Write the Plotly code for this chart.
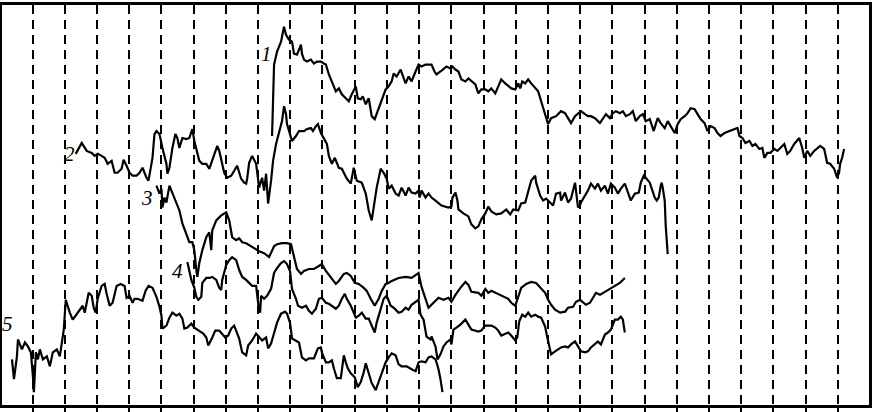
"""Five wiggly traces over dashed vertical guides (scanned-figure style)."""

import plotly.graph_objects as go

# Points are (x, depth); depth grows downward.
CURVE_1 = [
    (273, 135), (275, 63), (278, 50), (282, 40), (285, 25), (287, 33), (290, 38), (293, 40),
    (295, 52), (298, 53), (302, 43), (303, 52), (305, 58), (308, 60), (312, 58), (315, 62),
    (318, 60), (322, 60), (325, 62), (327, 63), (330, 73), (333, 80), (337, 90), (340, 87),
    (343, 93), (347, 97), (350, 100), (353, 93), (357, 85), (359, 97), (362, 98), (364, 95),
    (367, 103), (370, 97), (373, 115), (376, 118), (380, 107), (383, 97), (387, 88), (390, 85),
    (393, 80), (395, 72), (398, 75), (402, 68), (404, 73), (407, 82), (410, 75), (413, 80),
    (417, 70), (420, 63), (423, 65), (427, 63), (430, 63), (433, 63), (436, 70), (438, 73),
    (442, 70), (445, 67), (448, 65), (452, 67), (454, 65), (457, 68), (460, 70), (463, 78),
    (467, 80), (470, 77), (473, 80), (477, 83), (480, 92), (483, 88), (487, 88), (490, 90),
    (493, 87), (497, 92), (500, 85), (503, 78), (507, 82), (510, 85), (513, 87), (517, 88),
    (520, 82), (522, 87), (524, 80), (527, 82), (530, 78), (533, 82), (537, 87), (540, 90),
    (543, 100), (547, 112), (550, 123), (553, 117), (558, 115), (563, 110), (567, 112),
    (570, 117), (573, 122), (577, 115), (580, 112), (583, 110), (587, 113), (590, 115),
    (593, 115), (597, 117), (602, 122), (605, 118), (608, 113), (612, 117), (615, 112),
    (618, 110), (622, 112), (625, 110), (628, 115), (632, 113), (635, 110), (638, 120),
    (642, 115), (645, 113), (648, 120), (652, 118), (656, 130), (658, 123), (660, 117),
    (663, 122), (667, 127), (670, 120), (673, 125), (677, 132), (680, 123), (683, 118),
    (687, 115), (690, 112), (693, 107), (697, 108), (700, 113), (703, 118), (707, 122),
    (710, 130), (713, 125), (717, 127), (720, 132), (723, 135), (727, 132), (732, 130),
    (737, 128), (740, 127), (742, 135), (745, 137), (748, 142), (752, 140), (755, 145),
    (758, 143), (762, 148), (765, 147), (767, 157), (770, 152), (773, 152), (777, 148),
    (780, 150), (783, 147), (787, 143), (790, 153), (793, 150), (797, 143), (800, 140),
    (802, 137), (805, 147), (807, 157), (810, 150), (813, 155), (817, 150), (820, 147),
    (823, 145), (827, 148), (830, 162), (833, 163), (837, 168), (840, 177), (842, 172),
    (843, 163), (845, 157), (847, 148),
]

CURVE_2 = [
    (76, 153), (82, 142), (87, 150), (92, 152), (95, 155), (98, 153), (102, 155), (105, 157),
    (108, 163), (112, 160), (115, 172), (118, 172), (122, 168), (124, 159), (127, 165),
    (130, 172), (133, 175), (137, 175), (140, 172), (143, 167), (147, 177), (149, 180),
    (153, 157), (155, 133), (157, 130), (160, 133), (163, 147), (167, 163), (168, 173),
    (170, 167), (173, 147), (176, 133), (178, 137), (180, 147), (183, 137), (187, 138),
    (190, 137), (193, 128), (195, 140), (197, 147), (200, 160), (203, 163), (207, 163),
    (210, 168), (213, 160), (217, 148), (218, 145), (220, 150), (223, 165), (225, 172),
    (228, 177), (232, 175), (235, 170), (238, 165), (242, 178), (245, 182), (247, 183),
    (248, 178), (250, 162), (253, 155), (257, 163), (260, 187), (263, 177), (265, 190),
    (267, 173), (269, 203), (272, 180), (274, 160), (277, 143), (280, 130), (283, 120),
    (285, 105), (287, 113), (288, 123), (291, 133), (293, 140), (297, 135), (300, 130),
    (305, 130), (308, 128), (312, 127), (314, 130), (317, 125), (319, 123), (322, 132),
    (325, 137), (328, 143), (330, 155), (333, 163), (336, 157), (340, 167), (343, 168),
    (348, 178), (352, 183), (355, 167), (358, 180), (363, 182), (367, 193), (370, 210),
    (373, 220), (375, 207), (378, 187), (382, 168), (385, 172), (388, 178), (390, 188),
    (393, 185), (397, 193), (400, 195), (403, 187), (407, 195), (410, 187), (413, 192),
    (417, 193), (420, 190), (421, 197), (423, 190), (427, 197), (430, 193), (433, 197),
    (437, 200), (440, 203), (443, 205), (450, 207), (453, 206), (454, 197), (457, 192),
    (459, 200), (460, 209), (465, 213), (470, 216), (473, 224), (477, 228), (480, 226),
    (483, 219), (487, 213), (490, 206), (493, 211), (498, 214), (503, 213), (508, 209),
    (512, 214), (515, 209), (520, 210), (523, 203), (527, 202), (530, 192), (533, 180),
    (537, 175), (538, 182), (542, 195), (545, 200), (548, 198), (552, 202), (555, 205),
    (558, 193), (562, 192), (563, 200), (567, 192), (570, 202), (573, 198), (577, 182),
    (580, 207), (582, 205), (583, 202), (587, 195), (590, 190), (593, 183), (597, 188),
    (600, 183), (603, 190), (607, 185), (610, 193), (613, 183), (617, 187), (620, 193),
    (623, 188), (627, 183), (630, 192), (633, 200), (637, 193), (641, 192), (643, 182),
    (646, 175), (648, 177), (652, 182), (654, 188), (657, 197), (659, 200), (661, 197),
    (663, 185), (664, 182), (665, 187), (667, 200), (668, 225), (670, 254),
]

CURVE_3 = [
    (157, 185), (160, 193), (162, 188), (163, 207), (165, 197), (167, 202), (170, 185),
    (173, 192), (177, 202), (180, 210), (183, 223), (187, 235), (190, 242), (193, 242),
    (195, 250), (197, 270), (198, 277), (200, 263), (203, 250), (207, 237), (210, 232),
    (212, 250), (213, 230), (217, 220), (222, 215), (227, 212), (230, 220), (233, 237),
    (237, 240), (240, 238), (243, 242), (247, 243), (250, 245), (255, 248), (260, 251),
    (265, 253), (270, 257), (275, 246), (278, 244), (283, 243), (288, 243), (292, 244),
    (295, 256), (298, 269), (302, 274), (305, 271), (310, 269), (315, 269), (320, 266),
    (323, 264), (327, 271), (332, 278), (337, 284), (340, 281), (345, 274), (348, 273),
    (352, 276), (356, 283), (360, 284), (365, 288), (368, 291), (372, 299), (376, 306),
    (380, 299), (383, 291), (387, 284), (390, 283), (393, 281), (400, 278), (407, 277),
    (413, 278), (420, 273), (423, 287), (430, 308), (433, 305), (437, 300), (440, 298),
    (445, 300), (450, 298), (453, 302), (457, 295), (462, 288), (467, 282), (470, 285),
    (473, 292), (480, 293), (483, 296), (487, 289), (490, 293), (493, 291), (497, 293),
    (500, 294), (503, 296), (507, 298), (510, 299), (513, 303), (517, 306), (520, 297),
    (523, 288), (528, 284), (533, 282), (538, 283), (543, 288), (547, 293), (550, 300),
    (553, 305), (557, 310), (562, 313), (567, 312), (570, 308), (575, 307), (578, 302),
    (582, 300), (585, 303), (588, 305), (592, 303), (595, 298), (598, 293), (602, 295),
    (607, 292), (610, 290), (613, 288), (618, 285), (622, 283), (627, 278),
]

CURVE_4 = [
    (188, 262), (192, 280), (195, 288), (197, 297), (199, 300), (202, 297), (203, 283),
    (207, 278), (210, 278), (213, 277), (217, 280), (220, 288), (222, 290), (223, 280),
    (227, 265), (230, 260), (233, 257), (237, 260), (240, 270), (243, 277), (247, 280),
    (250, 283), (253, 286), (257, 286), (259, 303), (261, 313), (262, 296), (265, 299),
    (268, 296), (272, 289), (275, 273), (278, 268), (282, 263), (285, 261), (288, 264),
    (291, 271), (293, 289), (297, 299), (299, 306), (303, 308), (307, 306), (310, 311),
    (313, 314), (317, 309), (320, 299), (323, 298), (327, 303), (330, 304), (333, 306),
    (337, 309), (340, 306), (343, 299), (346, 294), (348, 299), (352, 306), (355, 313),
    (357, 318), (360, 316), (363, 313), (367, 319), (370, 319), (373, 326), (376, 333),
    (378, 323), (382, 309), (385, 299), (388, 296), (392, 306), (395, 308), (400, 313),
    (403, 312), (407, 308), (410, 310), (413, 305), (420, 300), (422, 315), (425, 320),
    (428, 337), (432, 340), (433, 337), (437, 347), (439, 360), (442, 355), (445, 347),
    (448, 343), (452, 340), (453, 345), (455, 330), (458, 328), (462, 325), (467, 320),
    (470, 325), (473, 330), (480, 332), (483, 331), (487, 326), (490, 326), (493, 326),
    (497, 328), (500, 331), (503, 336), (507, 334), (510, 333), (513, 336), (517, 341),
    (519, 338), (521, 322), (524, 315), (527, 317), (530, 313), (533, 317), (537, 315),
    (540, 317), (543, 318), (547, 327), (549, 337), (552, 353), (553, 355), (557, 352),
    (560, 350), (563, 348), (567, 347), (570, 348), (573, 345), (577, 342), (580, 347),
    (583, 352), (587, 353), (590, 352), (593, 348), (597, 345), (600, 342), (603, 345),
    (607, 335), (610, 333), (613, 330), (617, 320), (620, 320), (623, 317), (625, 320),
    (627, 333),
]

CURVE_5 = [
    (12, 360), (14, 380), (17, 357), (18, 340), (22, 350), (25, 343), (28, 347), (31, 353),
    (33, 377), (34, 393), (36, 353), (38, 360), (40, 350), (43, 360), (47, 357), (50, 367),
    (53, 353), (57, 350), (60, 357), (62, 343), (64, 330), (66, 300), (70, 313), (73, 320),
    (78, 313), (80, 309), (83, 306), (85, 313), (87, 301), (89, 293), (92, 296), (94, 308),
    (96, 313), (98, 299), (102, 286), (105, 284), (107, 294), (110, 306), (113, 303),
    (117, 286), (121, 284), (125, 286), (127, 298), (130, 296), (133, 303), (135, 299),
    (138, 299), (143, 301), (146, 291), (149, 286), (153, 288), (157, 297), (160, 307),
    (162, 316), (163, 329), (167, 326), (170, 318), (173, 313), (177, 316), (180, 314),
    (183, 319), (185, 329), (188, 328), (192, 324), (195, 328), (200, 331), (204, 334),
    (207, 338), (209, 346), (213, 338), (216, 331), (220, 331), (223, 334), (226, 338),
    (229, 336), (232, 329), (235, 326), (237, 331), (240, 339), (243, 353), (247, 356),
    (249, 346), (253, 341), (257, 334), (260, 338), (263, 341), (267, 338), (269, 349),
    (272, 344), (275, 333), (278, 323), (282, 314), (286, 312), (288, 314), (291, 323),
    (293, 339), (297, 341), (300, 343), (303, 358), (307, 361), (310, 359), (315, 359),
    (319, 349), (322, 348), (323, 353), (327, 363), (330, 363), (333, 361), (335, 369),
    (338, 379), (342, 379), (345, 356), (347, 363), (349, 369), (352, 374), (356, 378),
    (359, 388), (362, 383), (365, 373), (367, 364), (370, 374), (373, 384), (377, 391),
    (380, 383), (383, 373), (387, 363), (390, 358), (393, 354), (397, 356), (400, 365),
    (403, 367), (408, 367), (413, 370), (417, 372), (420, 363), (423, 362), (427, 363),
    (430, 358), (433, 357), (437, 360), (438, 363), (440, 370), (442, 380), (444, 393),
]

CURVES = [CURVE_1, CURVE_2, CURVE_3, CURVE_4, CURVE_5]

# Curve number labels and where they sit
LABELS = ["1", "2", "3", "4", "5"]
LABEL_X = [267, 70, 147, 178, 8]
LABEL_Y = [52, 153, 197, 271, 324]

# dashed vertical guides
GRID_START = 32.7
GRID_STEP = 32.32

fig = go.Figure()

for pts in CURVES:
    fig.add_trace(go.Scatter(
        x=[p[0] for p in pts],
        y=[p[1] for p in pts],
        mode="lines",
        line=dict(color="black", width=2.2),
        hoverinfo="skip",
    ))

for txt, lx, ly in zip(LABELS, LABEL_X, LABEL_Y):
    fig.add_annotation(
        x=lx, y=ly, text=f"<i>{txt}</i>", showarrow=False,
        font=dict(family="Liberation Serif", size=21, color="black"),
    )

fig.update_layout(
    width=874,
    height=412,
    margin=dict(l=2, r=2, t=3, b=7),
    paper_bgcolor="white",
    plot_bgcolor="white",
    showlegend=False,
)
fig.update_xaxes(
    range=[2, 872],
    showline=True, mirror=True, linecolor="black", linewidth=3,
    showgrid=True, gridcolor="black", gridwidth=2, griddash="9px,6px",
    tickmode="linear", tick0=GRID_START, dtick=GRID_STEP,
    ticks="outside", ticklen=4, tickwidth=2, tickcolor="black",
    showticklabels=False, zeroline=False,
)
fig.update_yaxes(
    range=[406, 3],
    showline=True, mirror=True, linecolor="black", linewidth=3,
    showgrid=False, showticklabels=False, ticks="", zeroline=False,
)

# the default page keeps an 8px body margin; drop it so the figure sits at 0,0
fig.write_html(
    "out.html",
    config={"displayModeBar": False},
    post_script="document.body.style.margin='0';document.body.style.overflow='hidden';",
)
